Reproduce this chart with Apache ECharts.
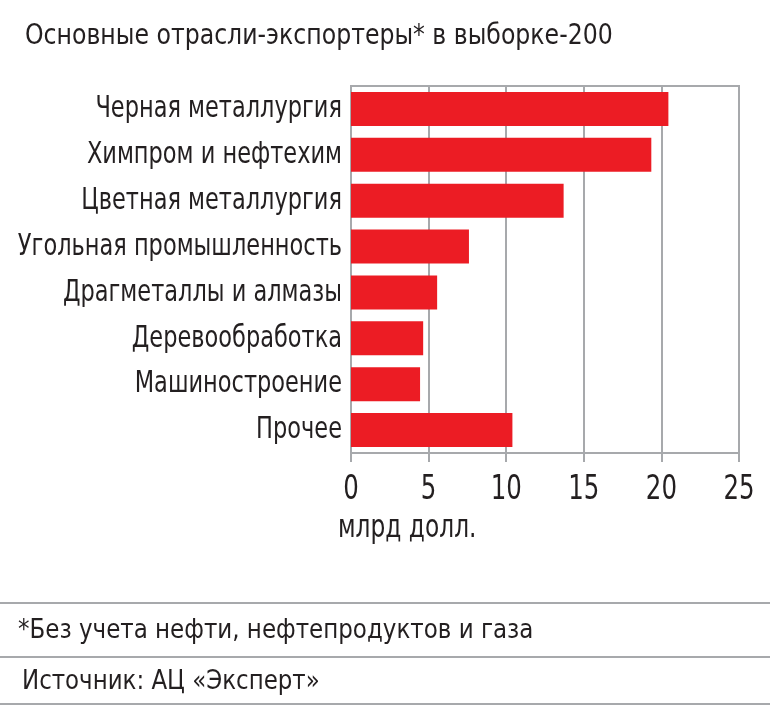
<!DOCTYPE html>
<html>
<head>
<meta charset="utf-8">
<script src="https://cdn.jsdelivr.net/npm/echarts@6/dist/echarts.min.js"></script>
<style>html,body{margin:0;padding:0;background:#fff}#c{width:770px;height:705px}</style>
</head>
<body>
<div id="c"></div>
<script>
var categories = ['Черная металлургия','Химпром и нефтехим','Цветная металлургия','Угольная промышленность','Драгметаллы и алмазы','Деревообработка','Машиностроение','Прочее'];
var values = [20.45, 19.35, 13.7, 7.6, 5.55, 4.65, 4.45, 10.4];
var xTicks = [0, 5, 10, 15, 20, 25];
var titleText = 'Основные отрасли-экспортеры* в выборке-200';
var unitText = 'млрд долл.';
var noteText = '*Без учета нефти, нефтепродуктов и газа';
var sourceText = 'Источник: АЦ «Эксперт»';

var FONT = "'DejaVu Sans Condensed','DejaVu Sans',sans-serif";
var TXT = '#231f20';
var GRID = '#a7a9ac';
var chart = echarts.init(document.getElementById('c'), null, {renderer:'canvas'});

function txt(x, y, s, size, sx, align) {
  return {type:'text', x:x, y:y, scaleX:sx, silent:true,
    style:{x:0, y:0, text:s, font:size + 'px ' + FONT, fill:TXT,
      textAlign:align || 'left', textVerticalAlign:'middle'}};
}

chart.setOption({
  animation:false,
  backgroundColor:'#fff',
  grid:{left:351,right:31,top:86,bottom:252,show:true,borderColor:GRID,borderWidth:2,
    containLabel:false, outerBoundsMode:'none'},
  xAxis:{type:'value',min:0,max:25,interval:5,
    axisLine:{show:true,lineStyle:{color:GRID,width:2}},
    axisTick:{show:true,length:9,lineStyle:{color:GRID,width:2}},
    splitLine:{show:true,lineStyle:{color:GRID,width:2}},
    axisLabel:{show:false}},
  yAxis:{type:'category',data:categories,inverse:true,
    axisLine:{show:true,lineStyle:{color:GRID,width:2}},
    axisTick:{show:false},
    axisLabel:{show:false}},
  series:[{type:'bar',data:values,barCategoryGap:'26%',itemStyle:{color:'#ec1c24'}}]
});

var g = [];
g.push(txt(25, 36, titleText, 29, 0.905));
categories.forEach(function (c) {
  var py = chart.convertToPixel({yAxisIndex:0}, c);
  g.push(txt(342, py + 0.5, c, 30, 0.833, 'right'));
});
xTicks.forEach(function (v) {
  var px = chart.convertToPixel({xAxisIndex:0}, v);
  g.push(txt(px, 490, String(v), 34, 0.8, 'center'));
});
g.push(txt(338, 528.5, unitText, 32, 0.81));
g.push({type:'line',silent:true,shape:{x1:0,y1:603,x2:770,y2:603},style:{stroke:GRID,lineWidth:2}});
g.push(txt(18, 631, noteText, 26, 0.983));
g.push({type:'line',silent:true,shape:{x1:0,y1:657,x2:770,y2:657},style:{stroke:GRID,lineWidth:2}});
g.push(txt(22, 682.5, sourceText, 26, 0.98));
g.push({type:'line',silent:true,shape:{x1:0,y1:704,x2:770,y2:704},style:{stroke:GRID,lineWidth:2}});
chart.setOption({graphic:g});
</script>
</body>
</html>
